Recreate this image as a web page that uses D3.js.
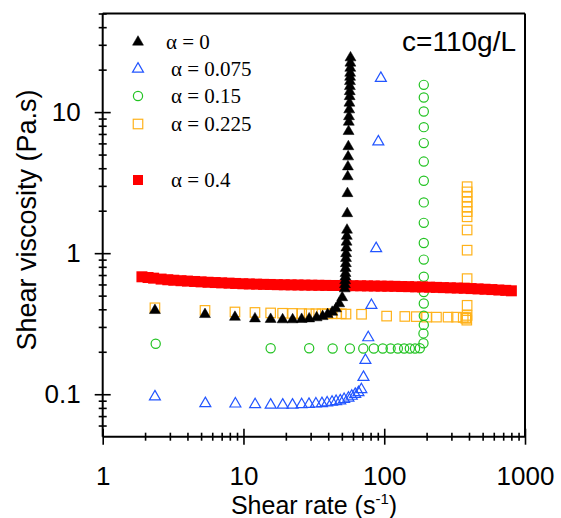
<!DOCTYPE html>
<html><head><meta charset="utf-8">
<script src="https://cdn.jsdelivr.net/npm/d3@7"></script>
<style>html,body{margin:0;padding:0;background:#fff}</style>
</head><body>
<svg id="c" width="561" height="518"></svg>
<script>
// ---- data ----
const xMajorTicks = [1, 10, 100, 1000];
const yMajorTicks = [0.1, 1, 10];
const xTickLabels = ["1", "10", "100", "1000"];
const yTickLabels = ["0.1", "1", "10"];
const xMinorTicks = [2,3,4,5,6,7,8,9,20,30,40,50,60,70,80,90,200,300,400,500,600,700,800,900];
const yMinorTicks = [0.06,0.07,0.08,0.09,0.2,0.3,0.4,0.5,0.6,0.7,0.8,0.9,2,3,4,5,6,7,8,9,20,30,40,50];

const seriesNames = ["α = 0", "α = 0.075", "α = 0.15", "α = 0.225", "α = 0.4"];

// alpha = 0 (black filled triangles)
const a0_x = [2.35,5.33,8.70,12.07,15.6,18.97,22.35,25.9,29.3,33.1,36.5,39.6,42.7,45.4,47.9,50.3,
  52.4,52.6,52.8,53.0,53.1,53.2,53.4,53.5,53.6,53.8,54.0,54.2,54.4,54.6,54.8,55.0,55.2,55.4,55.6,55.8,56.0,56.2,56.4,56.6,56.8];
const a0_y = [0.393,0.368,0.352,0.343,0.340,0.338,0.338,0.340,0.343,0.349,0.356,0.368,0.382,0.404,0.439,0.485,
  0.56,0.60,0.64,0.68,0.72,0.78,0.845,0.92,0.995,1.09,1.20,1.32,1.46,1.91,2.65,3.49,4.10,4.83,5.70,
  7.3,8.5,9.3,10.4,11.6,12.9];
const a0_x2 = [56.9,57.0,57.1,57.2,57.3,57.4,57.5,57.6];
const a0_y2 = [14.0,15.2,16.5,17.7,18.9,20.5,22.3,24.3];

// alpha = 0.075 (blue open triangles)
const a075_x = [2.35,5.36,8.76,12.1,15.6,19.0,22.3,25.9,29.2,32.7,36.1,39.3,42.6,45.5,48.7,51.9,55.7,58.8,62.2,65.6,68.8,71.2,73.5,77,81.1,87.6,90.8,94.6];
const a075_y = [0.096,0.086,0.0855,0.0845,0.084,0.084,0.084,0.0845,0.085,0.0855,0.086,0.087,0.088,0.089,0.090,0.092,0.094,0.097,0.100,0.103,0.108,0.132,0.174,0.252,0.427,1.08,6.17,17.4];

// alpha = 0.15 (green open circles)
const a15_x = [2.38,15.6,29.3,43,57,71,84.3,97.6,111,125,138.5,152,165.5,179,
  190,190,191,191,191,191,191,191,191,191,191,191,191,191,191,191,191,191];
const a15_y = [0.228,0.212,0.212,0.211,0.211,0.211,0.211,0.211,0.211,0.211,0.211,0.211,0.211,0.212,
  0.23,0.27,0.31,0.36,0.44,0.53,0.68,0.90,1.18,1.64,2.29,3.26,4.46,6.03,7.82,10.1,12.7,15.6];

// alpha = 0.225 (orange open squares)
const a225_x = [2.35,5.33,8.70,12.07,15.6,18.97,22.35,25.9,29.3,32.7,36.1,39.4,42.7,46,49.5,53.5,69,104,140,169,200,235,284,326,364,
  380,384,386,388,388,388,388,388,388,388,388,388,388,388,388];
const a225_y = [0.41,0.393,0.383,0.38,0.377,0.375,0.374,0.373,0.372,0.372,0.372,0.372,0.372,0.372,0.372,0.37,0.369,0.358,0.356,0.355,0.352,0.352,0.352,0.352,0.35,
  0.345,0.35,0.335,0.362,0.427,0.66,1.05,1.46,1.81,1.97,2.13,2.31,2.51,2.72,2.96,3.12];

// alpha = 0.4 (red filled squares)
const a4_x = [1.9,2.1,2.3,2.6,2.9,3.2,3.6,4.0,4.5,5.0,5.6,6.3,7.0,7.9,8.8,9.9,11,12.4,13.9,15.5,17.4,19.5,21.8,24.4,27.3,30.6,34.3,38.4,43,48,54,60,68,76,85,95,106,119,133,149,167,187,210,235,263,295,330,370,414,464,520,582,652,730,800];
const a4_y = [0.68,0.672,0.665,0.655,0.648,0.643,0.638,0.634,0.63,0.626,0.622,0.619,0.616,0.613,0.61,0.607,0.605,0.603,0.601,0.6,0.598,0.597,0.596,0.595,0.594,0.593,0.592,0.591,0.59,0.59,0.589,0.588,0.587,0.586,0.585,0.584,0.583,0.582,0.58,0.579,0.577,0.576,0.574,0.572,0.57,0.568,0.566,0.564,0.561,0.558,0.555,0.552,0.548,0.545,0.541];

const annotation = "c=110g/L";

// ---- chart ----
const svg = d3.select("#c");
const L = 102.7, R = 525, T = 13.5, B = 436.7;
const x = d3.scaleLog().domain([1, 1000]).range([L, R]);
const y = d3.scaleLog().domain([0.05, 50]).range([B, T]);

const colors = {black:"#000000", blue:"#2255ff", green:"#22c322", orange:"#ffb21a", red:"#ff0000"};

const zip = (xs, ys) => xs.map((v, i) => [v, ys[i]]);

const triPath = d3.symbol(d3.symbolTriangle, 52)();

function drawTri(g, pts, fill, stroke) {
  g.selectAll(null).data(pts).join("path")
    .attr("d", triPath)
    .attr("transform", d => `translate(${x(d[0])},${y(d[1])})`)
    .attr("fill", fill).attr("stroke", stroke).attr("stroke-width", fill === "none" ? 1.2 : 0.5);
}
function drawCirc(g, pts, color) {
  g.selectAll(null).data(pts).join("circle")
    .attr("cx", d => x(d[0])).attr("cy", d => y(d[1])).attr("r", 4.6)
    .attr("fill", "none").attr("stroke", color).attr("stroke-width", 1.2);
}
function drawSq(g, pts, fill, stroke, s) {
  g.selectAll(null).data(pts).join("rect")
    .attr("x", d => x(d[0]) - s/2).attr("y", d => y(d[1]) - s/2)
    .attr("width", s).attr("height", s)
    .attr("fill", fill).attr("stroke", stroke).attr("stroke-width", fill === "none" ? 1.2 : 0);
}

const plot = svg.append("g");
drawSq(plot.append("g"), zip(a225_x, a225_y), "none", colors.orange, 9.5);
drawCirc(plot.append("g"), zip(a15_x, a15_y), colors.green);
drawTri(plot.append("g"), zip(a075_x, a075_y), "none", colors.blue);
drawSq(plot.append("g"), zip(a4_x, a4_y), colors.red, "none", 11);
drawTri(plot.append("g"), zip(a0_x, a0_y).concat(zip(a0_x2, a0_y2)), colors.black, colors.black);

// frame
svg.append("line").attr("x1", L).attr("x2", R).attr("y1", T).attr("y2", T).attr("stroke", "#000").attr("stroke-width", 2);
svg.append("line").attr("x1", R).attr("x2", R).attr("y1", T).attr("y2", B).attr("stroke", "#000").attr("stroke-width", 2);

const font = "'Liberation Sans', Arial, sans-serif";

// y axis
const yTicks = yMajorTicks.concat(yMinorTicks);
const gy = svg.append("g").attr("transform", `translate(${L},0)`)
  .call(d3.axisLeft(y).tickValues(yTicks).tickSize(8).tickSizeOuter(0)
    .tickFormat(d => { const i = yMajorTicks.indexOf(d); return i >= 0 ? yTickLabels[i] : ""; }));
gy.select(".domain").attr("stroke-width", 2).attr("d", `M0,${T}V${B}`);
gy.selectAll(".tick line").attr("stroke-width", 1.6)
  .attr("x1", d => yMajorTicks.includes(d) ? 8 : 4).attr("x2", d => yMajorTicks.includes(d) ? -8 : -4);
gy.selectAll(".tick text").attr("x", -22).attr("font-size", 26).attr("font-family", font).attr("fill", "#000");

// x axis
const xTicks = xMajorTicks.concat(xMinorTicks);
const gx = svg.append("g").attr("transform", `translate(0,${B})`)
  .call(d3.axisBottom(x).tickValues(xTicks).tickSize(8).tickSizeOuter(0)
    .tickFormat(d => { const i = xMajorTicks.indexOf(d); return i >= 0 ? xTickLabels[i] : ""; }));
gx.select(".domain").attr("stroke-width", 2).attr("d", `M${L},0H${R}`);
gx.selectAll(".tick line").attr("stroke-width", 1.6)
  .attr("y1", d => xMajorTicks.includes(d) ? -8 : -4).attr("y2", d => xMajorTicks.includes(d) ? 8 : 4);
gx.selectAll(".tick text").attr("font-size", 26).attr("font-family", font).attr("fill", "#000")
  .attr("y", 48).attr("dy", 0);

// axis titles
const xt = svg.append("text").attr("x", 314).attr("y", 514).attr("text-anchor", "middle")
  .attr("font-family", font).attr("font-size", 25).attr("fill", "#000");
xt.append("tspan").text("Shear rate (s");
xt.append("tspan").text("-1").attr("font-size", 15).attr("dy", -10);
xt.append("tspan").text(")").attr("dy", 10);

svg.append("text").attr("transform", "translate(36,220) rotate(-90)").attr("text-anchor", "middle")
  .attr("font-family", font).attr("font-size", 27).attr("fill", "#000").text("Shear viscosity (Pa.s)");

// annotation
svg.append("text").attr("x", 516).attr("y", 51).attr("text-anchor", "end")
  .attr("font-family", font).attr("font-size", 28).attr("fill", "#000").text(annotation);

// legend
const legY = [42, 69, 96, 124, 180];
const legTextX = [166, 171, 171, 171, 171];
const leg = svg.append("g");
leg.append("path").attr("d", triPath).attr("transform", `translate(138,${legY[0]})`).attr("fill", colors.black).attr("stroke", colors.black).attr("stroke-width", 0.5);
leg.append("path").attr("d", triPath).attr("transform", `translate(138,${legY[1]})`).attr("fill", "none").attr("stroke", colors.blue).attr("stroke-width", 1.2);
leg.append("circle").attr("cx", 138).attr("cy", legY[2]).attr("r", 4.6).attr("fill", "none").attr("stroke", colors.green).attr("stroke-width", 1.2);
leg.append("rect").attr("x", 133.25).attr("y", legY[3] - 4.75).attr("width", 9.5).attr("height", 9.5).attr("fill", "none").attr("stroke", colors.orange).attr("stroke-width", 1.2);
leg.append("rect").attr("x", 133).attr("y", legY[4] - 5).attr("width", 10).attr("height", 10).attr("fill", colors.red);
seriesNames.forEach((n, i) => {
  leg.append("text").attr("x", legTextX[i]).attr("y", legY[i] + 7).attr("font-family", "'Liberation Serif', 'Times New Roman', serif")
    .attr("font-size", 21).attr("fill", "#000").text(n);
});
</script>
</body></html>
